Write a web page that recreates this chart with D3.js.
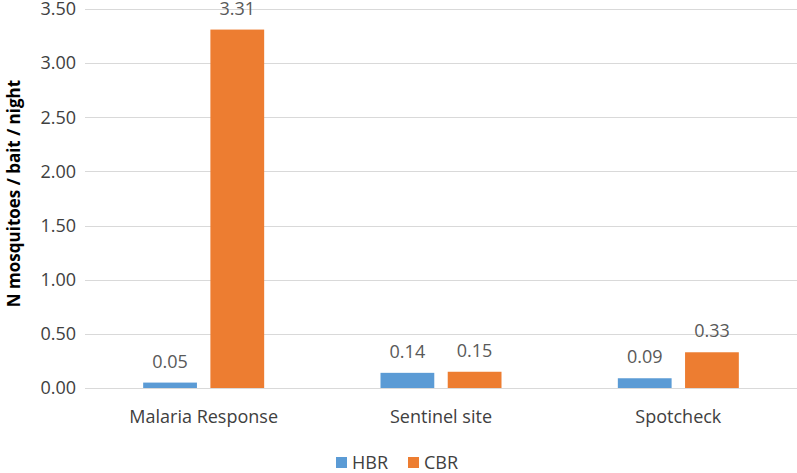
<!DOCTYPE html>
<html><head><meta charset="utf-8">
<script src="https://cdn.jsdelivr.net/npm/d3@7"></script>
<style>body{margin:0;background:#fff;} text{font-family:"Open Sans",sans-serif;}</style>
</head><body>
<svg id="c" width="797" height="473"></svg>
<script>
const categories = ["Malaria Response", "Sentinel site", "Spotcheck"];
const seriesNames = ["HBR", "CBR"];
const hbr = [0.05, 0.14, 0.09];
const cbr = [3.31, 0.15, 0.33];
const yTicks = [0, 0.5, 1, 1.5, 2, 2.5, 3, 3.5];
const colors = ["#5B9BD5", "#ED7D31"];

const FS = 18;
const svg = d3.select("#c");
const m = {l: 85, r: 0, t: 9, b: 85};
const W = 797, H = 473;
const GW = 121;
const x0 = d3.scaleBand().domain(categories).range([m.l, W - m.r]);
const x1 = d3.scaleBand().domain(seriesNames).range([0, GW]).paddingInner(0.2);
const y = d3.scaleLinear().domain([0, 3.5]).range([H - m.b, m.t]);

// gridlines
svg.append("g").selectAll("line").data(yTicks).join("line")
  .attr("x1", m.l).attr("x2", W - m.r)
  .attr("y1", d => Math.round(y(d)) + 0.5).attr("y2", d => Math.round(y(d)) + 0.5)
  .attr("stroke", "#d9d9d9").attr("stroke-width", 1);

// y axis labels
const ya = svg.append("g").attr("transform", `translate(${m.l - 9},0)`)
  .call(d3.axisLeft(y).tickValues(yTicks).tickFormat(d3.format(".2f")).tickSize(0).tickPadding(0));
ya.select(".domain").remove();
ya.selectAll("text").attr("font-size", FS).attr("fill", "#404040").attr("font-family", "Open Sans");

// x axis labels
const xa = svg.append("g").attr("transform", `translate(0,${H - m.b})`)
  .call(d3.axisBottom(x0).tickSize(0).tickPadding(22));
xa.select(".domain").remove();
xa.selectAll("text").attr("font-size", FS).attr("fill", "#404040").attr("font-family", "Open Sans");

const data = categories.map((c, i) => ({cat: c, vals: [hbr[i], cbr[i]]}));
const groups = svg.append("g").selectAll("g").data(data).join("g")
  .attr("transform", d => `translate(${x0(d.cat) + (x0.bandwidth() - GW) / 2},0)`);
groups.selectAll("rect").data(d => d.vals.map((v, j) => ({s: seriesNames[j], v, j})))
  .join("rect")
  .attr("x", d => x1(d.s)).attr("width", x1.bandwidth())
  .attr("y", d => y(d.v)).attr("height", d => y(0) - y(d.v))
  .attr("fill", d => colors[d.j]);
groups.selectAll("text").data(d => d.vals.map((v, j) => ({s: seriesNames[j], v, j})))
  .join("text")
  .attr("x", d => x1(d.s) + x1.bandwidth() / 2).attr("y", d => Math.max(y(d.v) - 15, 15))
  .attr("text-anchor", "middle").attr("font-size", FS).attr("fill", "#595959")
  .text(d => d.v.toFixed(2));

// y title
svg.append("text")
  .attr("transform", `translate(20,${(m.t + H - m.b) / 2 - 5}) rotate(-90)`)
  .attr("text-anchor", "middle").attr("font-size", 17).attr("font-weight", "bold")
  .attr("fill", "#000").text("N mosquitoes / bait / night");

// legend
const lg = svg.append("g").attr("transform", "translate(336,457)");
const items = lg.selectAll("g").data(seriesNames).join("g")
  .attr("transform", (d, i) => `translate(${i * 72},0)`);
items.append("rect").attr("width", 11).attr("height", 11).attr("fill", (d, i) => colors[i]);
items.append("text").attr("x", 16).attr("y", 12).attr("font-size", FS).attr("fill", "#404040").text(d => d);
</script>
</body></html>
